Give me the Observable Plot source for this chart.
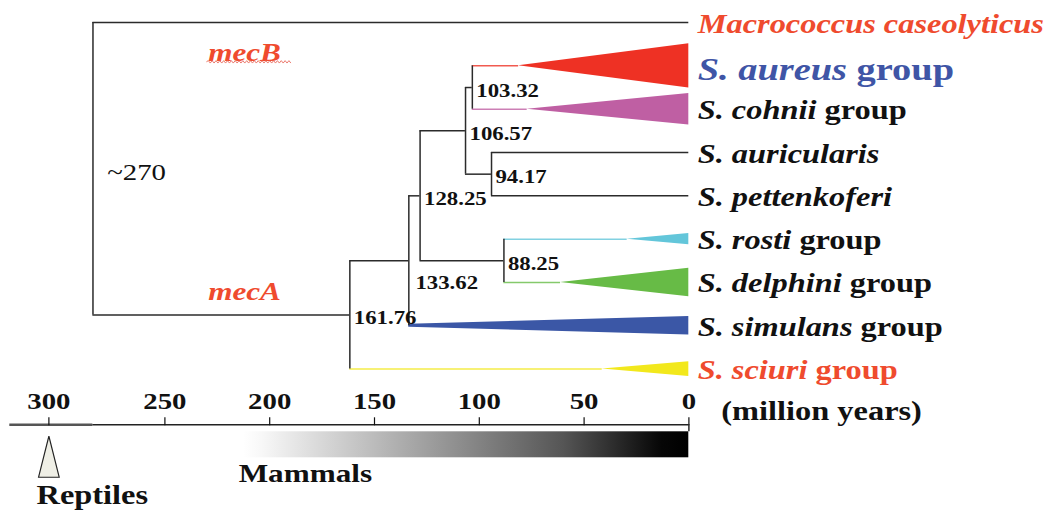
<!DOCTYPE html>
<html><head><meta charset="utf-8">
<script src="https://cdn.jsdelivr.net/npm/d3@7"></script>
<script src="https://cdn.jsdelivr.net/npm/@observablehq/plot@0.6"></script>
<style>html,body{margin:0;padding:0;background:#fff;overflow:hidden}</style>
</head><body><div id="chart"></div>
<script>
// ---------------- data ----------------
// internal nodes of the dated tree (ages in million years)
const nodeNames   = ["root", "n161", "n133", "n128", "n106", "n103", "n94", "n88"];
const nodeAges    = [281, 161.76, 133.62, 128.25, 106.57, 103.32, 94.17, 88.25];
const nodeParents = [null, "root", "n161", "n133", "n128", "n106", "n106", "n128"];
const nodeLabels  = ["~270", "161.76", "133.62", "128.25", "106.57", "103.32", "94.17", "88.25"];

// leaves (top to bottom)
const leafItalic  = ["Macrococcus caseolyticus", "S. aureus", "S. cohnii", "S. auricularis", "S. pettenkoferi", "S. rosti", "S. delphini", "S. simulans", "S. sciuri"];
const leafSuffix  = ["", "group", "group", "", "", "group", "group", "group", "group"];
const leafParents = ["root", "n103", "n103", "n94", "n94", "n88", "n88", "n133", "n161"];
const leafRows    = [0, 1, 2, 3, 4, 5, 6, 7, 8];
const cladeCrownAges  = [null, 81.2, 77.1, null, null, 29.4, 61.2, 133.62, 41.3];
const cladeTipSpread  = [0, 0.508, 0.365, 0, 0, 0.132, 0.328, 0.212, 0.169];
const cladeBaseSpread = [0, 0, 0, 0, 0, 0, 0, 0.035, 0];
const cladeColors = [null, "#ee3124", "#bf5fa3", null, null, "#63c6da", "#67bb46", "#3b57a6", "#f2e81c"];
const labelColors = ["#ef4b2e", "#3f55a6", "#111111", "#111111", "#111111", "#111111", "#111111", "#111111", "#ef4b2e"];

// time axis
const timeTicks = [300, 250, 200, 150, 100, 50, 0];
const axisStart = 316.8;
const axisTitle = "(million years)";
const mammalsStart = 212.4;
const reptilesAge = 300;

// gene annotations
const annotationTexts = ["mecB", "mecA"];
const annotationAges  = [212, 212];

// ---------------- build tree geometry ----------------
const nodes = nodeNames.map((name, i) => ({name, age: nodeAges[i], parent: nodeParents[i], label: nodeLabels[i]}));
const leaves = leafItalic.map((it, i) => ({
  italic: it, suffix: leafSuffix[i], parent: leafParents[i], row: leafRows[i],
  crown: cladeCrownAges[i], tip: cladeTipSpread[i], base: cladeBaseSpread[i],
  color: cladeColors[i], labelColor: labelColors[i]
}));
const byName = new Map(nodes.map(n => [n.name, n]));
function rowOf(name) {
  const n = byName.get(name);
  if (n.row != null) return n.row;
  const kids = [
    ...nodes.filter(c => c.parent === name).map(c => rowOf(c.name)),
    ...leaves.filter(l => l.parent === name).map(l => l.row)
  ];
  n.kidMin = Math.min(...kids); n.kidMax = Math.max(...kids);
  n.row = (n.kidMin + n.kidMax) / 2;
  return n.row;
}
nodes.forEach(n => rowOf(n.name));

const hBlack = [], hColored = [];
nodes.filter(n => n.parent).forEach(n => hBlack.push({y: n.row, x1: byName.get(n.parent).age, x2: n.age}));
leaves.forEach(l => {
  const seg = {y: l.row, x1: byName.get(l.parent).age, x2: l.crown == null ? 0 : l.crown, color: l.color};
  (l.color ? hColored : hBlack).push(seg);
});
const vLines = nodes.map(n => ({x: n.age, y1: n.kidMin, y2: n.kidMax}));
const triPts = [];
leaves.filter(l => l.crown != null).forEach(l => {
  triPts.push({name: l.italic, color: l.color, x: l.crown, y1: l.row - l.base, y2: l.row + l.base});
  triPts.push({name: l.italic, color: l.color, x: 0, y1: l.row - l.tip, y2: l.row + l.tip});
});
const root = byName.get("root");

// ---------------- layout ----------------
const W = 872.5, H = 510, S = 1047 / W;      // text in the original is horizontally stretched
const xRange = [9.3, 164.3, 688.3].map(v => v / S);
const yRange = [22.05, 368.6];
const rowH = (yRange[1] - yRange[0]) / 8;
const axisPx = 424.3;
const axisRow = (axisPx - yRange[0]) / rowH;
const barTopRow = (431.3 - yRange[0]) / rowH, barBotRow = (457.3 - yRange[0]) / rowH;
const reptRow = (456.2 - yRange[0]) / rowH;
const FONT = "'Liberation Serif', 'Times New Roman', serif";
const RED = "#ef4b2e", LINE = "#2b2b2b";

const tallTriangle = {draw(ctx) { ctx.moveTo(0, -20.5); ctx.lineTo(8.6, 20.5); ctx.lineTo(-8.6, 20.5); ctx.closePath(); }};

function squiggle(index, scales) {
  const ns = "http://www.w3.org/2000/svg";
  const cx = scales.x(annotationAges[0]);
  const y0 = scales.y(leafRows[0]) + 39.8;
  const xa = cx - 31.3, xb = cx + 39.5;
  let d = `M${xa},${y0}`;
  let up = true;
  for (let x = xa + 1.6; x <= xb; x += 1.6) { d += `L${x.toFixed(2)},${(y0 + (up ? -1.2 : 1.2)).toFixed(2)}`; up = !up; }
  const p = document.createElementNS(ns, "path");
  p.setAttribute("d", d); p.setAttribute("fill", "none");
  p.setAttribute("stroke", "#e86a5c"); p.setAttribute("stroke-width", "0.8");
  return p;
}

const plot = Plot.plot({
  width: W, height: H,
  marginTop: axisPx, marginBottom: 0, marginLeft: 0, marginRight: 0,
  style: {fontFamily: FONT, background: "white", color: "#111"},
  x: {type: "linear", domain: [axisStart, 250, 0], range: xRange},
  y: {type: "linear", domain: [0, 8], range: yRange, axis: null},
  color: {type: "identity"},
  marks: [
    // clade triangles
    Plot.areaY(triPts, {x: "x", y1: "y1", y2: "y2", z: "name", fill: "color", curve: "linear"}),
    // coloured stems
    Plot.ruleY(hColored, {y: "y", x1: "x1", x2: "x2", stroke: "color", strokeWidth: 1.5, strokeOpacity: 0.8}),
    // black branches
    Plot.ruleY(hBlack, {y: "y", x1: "x1", x2: "x2", stroke: LINE, strokeWidth: 1.5}),
    Plot.ruleX(vLines, {x: "x", y1: "y1", y2: "y2", stroke: LINE, strokeWidth: 1.25}),
    // time axis line
    Plot.ruleY([axisRow], {x1: axisStart, x2: root.age, stroke: "#555", strokeWidth: 2.4}),
    Plot.ruleY([axisRow], {x1: root.age, x2: 0, stroke: "#222", strokeWidth: 1.4}),
    Plot.ruleX([0], {y1: axisRow, y2: barTopRow, stroke: "#222", strokeWidth: 1.2}),
    Plot.axisX({anchor: "top", ticks: timeTicks, tickSize: 8, tickPadding: 8, tickFormat: d => `${d}`,
      fontSize: 24, fontWeight: "bold", label: null, color: "#111"}),
    Plot.text([axisTitle], {x: 0, y: axisRow, text: d => d, dx: 27, dy: -4.5, textAnchor: "start", lineAnchor: "bottom",
      fontSize: 27, fontWeight: "bold", fill: "#111"}),
    // mammals & reptiles
    Plot.rect([mammalsStart], {x1: d => d, x2: 0, y1: barTopRow, y2: barBotRow, fill: "url(#mammalsGradient)"}),
    Plot.text(["Mammals"], {x: mammalsStart, y: axisRow, text: d => d, dx: -4.2, dy: 57.4, textAnchor: "start", lineAnchor: "bottom",
      fontSize: 26, fontWeight: "bold", fill: "#111"}),
    Plot.dot([reptilesAge], {x: d => d, y: reptRow, symbol: tallTriangle, fill: "#efefe6", stroke: "#222", strokeWidth: 1}),
    Plot.text(["Reptiles"], {x: reptilesAge, y: axisRow, text: d => d, dx: -10.3, dy: 79, textAnchor: "start", lineAnchor: "bottom",
      fontSize: 27, fontWeight: "bold", fill: "#111"}),
    // node ages
    Plot.text(nodes.filter(n => n.parent && n.name !== "n133"), {x: "age", y: "row", text: "label", dx: 3.3, dy: 9,
      textAnchor: "start", lineAnchor: "bottom", fontSize: 19, fontWeight: "bold", fill: "#111"}),
    Plot.text(nodes.filter(n => n.name === "n133"), {x: "age", y: "row", text: "label", dx: 5.5, dy: 28,
      textAnchor: "start", lineAnchor: "bottom", fontSize: 19, fontWeight: "bold", fill: "#111"}),
    Plot.text([root], {x: "age", y: "row", text: "label", dx: 11.9, dy: 11.7,
      textAnchor: "start", lineAnchor: "bottom", fontSize: 24, fill: "#111"}),
    // gene annotations
    Plot.text([0], {x: annotationAges[0], y: leafRows[0], text: () => annotationTexts[0], dy: 38, textAnchor: "middle", lineAnchor: "bottom",
      fontSize: 26, fontWeight: "bold", fontStyle: "italic", fill: RED}),
    Plot.text([0], {x: annotationAges[1], y: byName.get("n161").row, text: () => annotationTexts[1], dy: -14.5, textAnchor: "middle", lineAnchor: "bottom",
      fontSize: 26, fontWeight: "bold", fontStyle: "italic", fill: RED}),
    squiggle,
    // leaf labels
    Plot.text(leaves.filter(l => l.row !== 1), {x: 0, y: "row", text: d => d.italic + "|" + d.suffix, dx: 7.3, dy: 10,
      textAnchor: "start", lineAnchor: "bottom", fontSize: 27, fontWeight: "bold", fill: "labelColor"}),
    Plot.text(leaves.filter(l => l.row === 1), {x: 0, y: "row", text: d => d.italic + "|" + d.suffix, dx: 7.3, dy: 14.6,
      textAnchor: "start", lineAnchor: "bottom", fontSize: 32, fontWeight: "bold", fill: "labelColor"})
  ]
});

// ---------------- post-processing ----------------
const ns = "http://www.w3.org/2000/svg";
// mixed italic / roman labels
plot.querySelectorAll("text").forEach(t => {
  const s = t.textContent;
  if (!s.includes("|")) return;
  const [it, ro] = s.split("|");
  t.textContent = "";
  const a = document.createElementNS(ns, "tspan");
  a.setAttribute("font-style", "italic"); a.textContent = it; t.appendChild(a);
  if (ro) {
    const b = document.createElementNS(ns, "tspan");
    b.setAttribute("font-style", "normal"); b.textContent = " " + ro; t.appendChild(b);
  }
});
// gradient for the mammals bar
const defs = document.createElementNS(ns, "defs");
defs.innerHTML = `<linearGradient id="mammalsGradient" x1="0" x2="1" y1="0" y2="0">
  <stop offset="0" stop-color="#ffffff"/><stop offset="0.04" stop-color="#f8f8f8"/>
  <stop offset="0.25" stop-color="#c6c6c6"/><stop offset="0.5" stop-color="#8a8a8a"/>
  <stop offset="0.72" stop-color="#555555"/><stop offset="0.94" stop-color="#060606"/>
  <stop offset="1" stop-color="#000000"/></linearGradient>`;
plot.insertBefore(defs, plot.firstChild);
// stretch horizontally like the original figure
plot.setAttribute("width", 1047);
plot.setAttribute("height", 510);
plot.setAttribute("preserveAspectRatio", "none");
plot.style.maxWidth = "none";
plot.style.width = "1047px";
plot.style.height = "510px";
document.getElementById("chart").appendChild(plot);
</script>
</body></html>
